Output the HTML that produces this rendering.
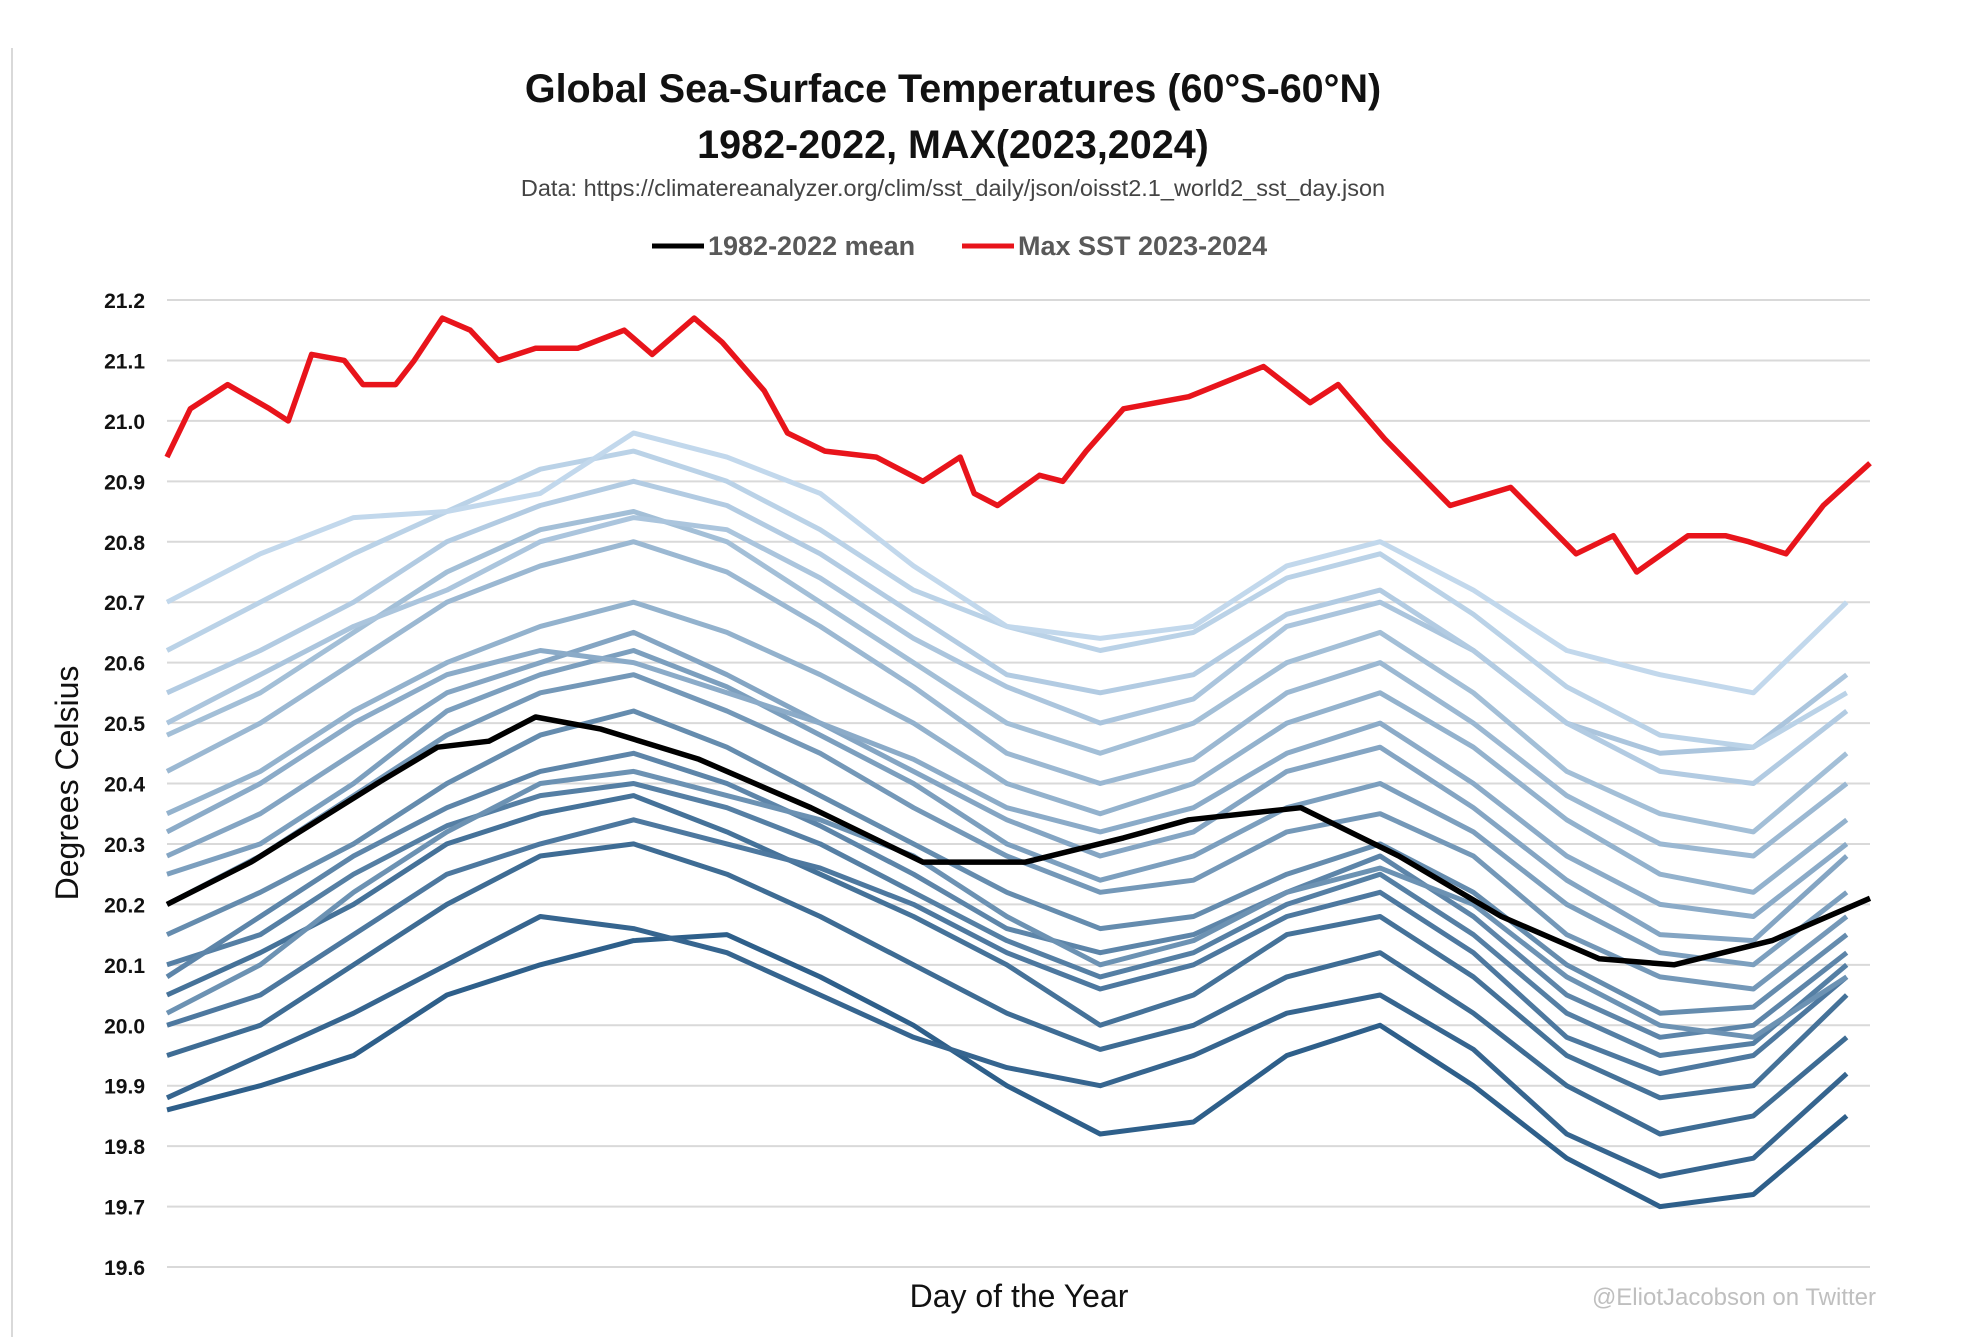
<!DOCTYPE html>
<html><head><meta charset="utf-8"><style>
html,body{margin:0;padding:0;background:#fff;}
svg{display:block;font-family:"Liberation Sans",sans-serif;}
</style></head><body>
<svg id="chart" width="1961" height="1337" viewBox="0 0 1961 1337">
<line x1="12" y1="48" x2="12" y2="1337" stroke="#d9d9d9" stroke-width="2"/>
<text x="953" y="102" text-anchor="middle" font-size="39.5" font-weight="bold" fill="#111">Global Sea-Surface Temperatures (60°S-60°N)</text>
<text x="953" y="158" text-anchor="middle" font-size="39.5" font-weight="bold" fill="#111">1982-2022, MAX(2023,2024)</text>
<text x="953" y="196" text-anchor="middle" font-size="23.5" fill="#444">Data: https://climatereanalyzer.org/clim/sst_daily/json/oisst2.1_world2_sst_day.json</text>
<g>
<line x1="652" y1="246" x2="704" y2="246" stroke="#000" stroke-width="5"/>
<text x="708" y="255" font-size="27" font-weight="bold" fill="#595959">1982-2022 mean</text>
<line x1="962" y1="246" x2="1014" y2="246" stroke="#e8141b" stroke-width="5"/>
<text x="1018" y="255" font-size="27" font-weight="bold" fill="#595959">Max SST 2023-2024</text>
</g>
<g id="grid"></g>
<g id="series"></g>
<text transform="translate(78,783) rotate(-90)" text-anchor="middle" font-size="32" fill="#111">Degrees Celsius</text>
<text x="1019" y="1307" text-anchor="middle" font-size="32" fill="#111">Day of the Year</text>
<text x="1876" y="1305" text-anchor="end" font-size="24" fill="#bfbfbf">@EliotJacobson on Twitter</text>
</svg>
<script>
const yTicks = [19.6,19.7,19.8,19.9,20.0,20.1,20.2,20.3,20.4,20.5,20.6,20.7,20.8,20.9,21.0,21.1,21.2];
const yearDays = [0,20,40,60,80,100,120,140,160,180,200,220,240,260,280,300,320,340,360];
const yearSeries = [
[19.86,19.90,19.95,20.05,20.10,20.14,20.15,20.08,20.00,19.90,19.82,19.84,19.95,20.00,19.90,19.78,19.70,19.72,19.85],
[19.88,19.95,20.02,20.10,20.18,20.16,20.12,20.05,19.98,19.93,19.90,19.95,20.02,20.05,19.96,19.82,19.75,19.78,19.92],
[19.95,20.00,20.10,20.20,20.28,20.30,20.25,20.18,20.10,20.02,19.96,20.00,20.08,20.12,20.02,19.90,19.82,19.85,19.98],
[20.05,20.12,20.20,20.30,20.35,20.38,20.32,20.25,20.18,20.10,20.00,20.05,20.15,20.18,20.08,19.95,19.88,19.90,20.05],
[20.00,20.05,20.15,20.25,20.30,20.34,20.30,20.26,20.20,20.12,20.06,20.10,20.18,20.22,20.12,19.98,19.92,19.95,20.08],
[20.10,20.15,20.25,20.33,20.38,20.40,20.36,20.30,20.22,20.14,20.08,20.12,20.20,20.25,20.15,20.02,19.95,19.97,20.10],
[20.08,20.18,20.28,20.36,20.42,20.45,20.40,20.33,20.25,20.16,20.12,20.15,20.22,20.28,20.18,20.05,19.98,20.00,20.12],
[20.15,20.22,20.30,20.40,20.48,20.52,20.46,20.38,20.30,20.22,20.16,20.18,20.25,20.30,20.22,20.10,20.02,20.03,20.15],
[20.02,20.10,20.22,20.32,20.40,20.42,20.38,20.34,20.28,20.18,20.10,20.14,20.22,20.26,20.20,20.08,20.00,19.98,20.08],
[20.20,20.28,20.38,20.48,20.55,20.58,20.52,20.45,20.36,20.28,20.22,20.24,20.32,20.35,20.28,20.15,20.08,20.06,20.18],
[20.25,20.30,20.40,20.52,20.58,20.62,20.56,20.48,20.40,20.30,20.24,20.28,20.36,20.40,20.32,20.20,20.12,20.10,20.22],
[20.28,20.35,20.45,20.55,20.60,20.65,20.58,20.50,20.42,20.34,20.28,20.32,20.42,20.46,20.36,20.24,20.15,20.14,20.28],
[20.32,20.40,20.50,20.58,20.62,20.60,20.55,20.50,20.44,20.36,20.32,20.36,20.45,20.50,20.40,20.28,20.20,20.18,20.30],
[20.35,20.42,20.52,20.60,20.66,20.70,20.65,20.58,20.50,20.40,20.35,20.40,20.50,20.55,20.46,20.34,20.25,20.22,20.34],
[20.42,20.50,20.60,20.70,20.76,20.80,20.75,20.66,20.56,20.45,20.40,20.44,20.55,20.60,20.50,20.38,20.30,20.28,20.40],
[20.48,20.55,20.65,20.75,20.82,20.85,20.80,20.70,20.60,20.50,20.45,20.50,20.60,20.65,20.55,20.42,20.35,20.32,20.45],
[20.50,20.58,20.66,20.72,20.80,20.84,20.82,20.74,20.64,20.56,20.50,20.54,20.66,20.70,20.62,20.50,20.45,20.46,20.58],
[20.55,20.62,20.70,20.80,20.86,20.90,20.86,20.78,20.68,20.58,20.55,20.58,20.68,20.72,20.62,20.50,20.42,20.40,20.52],
[20.62,20.70,20.78,20.85,20.92,20.95,20.90,20.82,20.72,20.66,20.62,20.65,20.74,20.78,20.68,20.56,20.48,20.46,20.55],
[20.70,20.78,20.84,20.85,20.88,20.98,20.94,20.88,20.76,20.66,20.64,20.66,20.76,20.80,20.72,20.62,20.58,20.55,20.70]
];
const meanDays = [0,18,45,58,69,79,93,114,138,162,184,205,219,243,264,286,307,323,344,365];
const meanValues = [20.20,20.27,20.40,20.46,20.47,20.51,20.49,20.44,20.36,20.27,20.27,20.31,20.34,20.36,20.28,20.18,20.11,20.10,20.14,20.21];
const maxDays = [0,5,13,22,26,31,38,42,49,53,59,65,71,79,88,98,104,113,119,128,133,141,152,162,170,173,178,187,192,197,205,219,235,245,251,261,275,288,302,310,315,326,334,339,347,355,365];
const maxValues = [20.94,21.02,21.06,21.02,21.00,21.11,21.10,21.06,21.06,21.10,21.17,21.15,21.10,21.12,21.12,21.15,21.11,21.17,21.13,21.05,20.98,20.95,20.94,20.90,20.94,20.88,20.86,20.91,20.90,20.95,21.02,21.04,21.09,21.03,21.06,20.97,20.86,20.89,20.78,20.81,20.75,20.81,20.81,20.80,20.78,20.86,20.93];
</script>
<script>
(function(){
const NS='http://www.w3.org/2000/svg';
const x0=167,x1=1870,yTop=300,yBot=1267,vMin=19.6,vMax=21.2;
const xs=d=>x0+(d/365)*(x1-x0);
const ys=v=>yBot-(v-vMin)/(vMax-vMin)*(yBot-yTop);
const grid=document.getElementById('grid');
yTicks.forEach(t=>{
  const l=document.createElementNS(NS,'line');
  l.setAttribute('x1',x0);l.setAttribute('x2',x1);
  l.setAttribute('y1',ys(t));l.setAttribute('y2',ys(t));
  l.setAttribute('stroke','#d9d9d9');l.setAttribute('stroke-width','2');
  
  
  grid.appendChild(l);
  const tx=document.createElementNS(NS,'text');
  tx.setAttribute('x',145);tx.setAttribute('y',ys(t)+8);
  tx.setAttribute('text-anchor','end');tx.setAttribute('font-size','21');
  tx.setAttribute('font-weight','bold');tx.setAttribute('fill','#111');
  tx.textContent=t.toFixed(1);
  
  
  grid.appendChild(tx);
});
const g=document.getElementById('series');
function line(days,vals,color,w,name){
  const p=document.createElementNS(NS,'polyline');
  p.setAttribute('points',days.map((d,i)=>xs(d).toFixed(1)+','+ys(vals[i]).toFixed(1)).join(' '));
  p.setAttribute('fill','none');p.setAttribute('stroke',color);
  p.setAttribute('stroke-width',w);p.setAttribute('stroke-linejoin','round');
  
  
  g.appendChild(p);
}
const c0=[46,95,138],c1=[194,216,236];
const n=yearSeries.length;
yearSeries.forEach((s,i)=>{
  const f=i/(n-1);
  const c=c0.map((a,k)=>Math.round(a+(c1[k]-a)*f));
  line(yearDays,s,'rgb('+c.join(',')+')',5,'year-line');
});
line(meanDays,meanValues,'#000',5.5,'mean-line');
line(maxDays,maxValues,'#e8141b',5.5,'max-line');
})();
</script>
</body></html>
